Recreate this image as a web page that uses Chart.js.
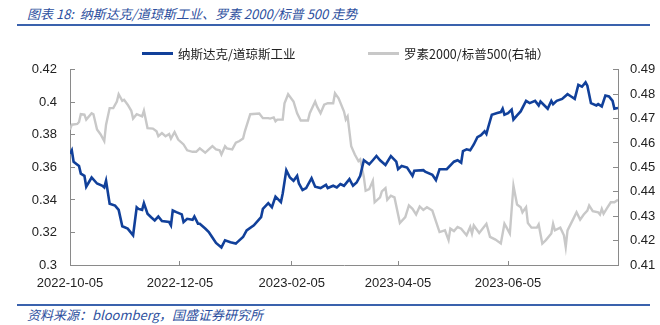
<!DOCTYPE html>
<html>
<head>
<meta charset="utf-8">
<script src="https://cdn.jsdelivr.net/npm/chart.js@4"></script>
<style>
    body { margin: 0; background: #fff; width: 660px; height: 325px; position: relative; overflow: hidden; }
    .title { position: absolute; left: 27px; top: 4px; font: italic 13px "Noto Sans CJK SC", sans-serif; color: #2d4f9e; white-space: nowrap; }
    .rule { position: absolute; left: 17px; width: 633px; background: #3a62ad; }
    .source { position: absolute; left: 27px; top: 305px; font: italic 13px "Noto Sans CJK SC", sans-serif; color: #2d4f9e; white-space: nowrap; }
    .legend-item { position: absolute; top: 44px; font: 12.5px "Noto Sans CJK SC", sans-serif; color: #222; white-space: nowrap; display: flex; align-items: center; }
    .legend-item span.swatch { display: inline-block; width: 31px; height: 3px; margin-right: 5px; }
    #chart { position: absolute; left: 0; top: 44px; }
</style>
</head>
<body>
<div class="title">图表 18:&nbsp; 纳斯达克/道琼斯工业、罗素 2000/标普 500 走势</div>
<div class="rule" style="top:24px;height:2px"></div>
<canvas id="chart" width="660" height="256"></canvas>
<div id="legend"></div>
<div class="rule" style="top:304px;height:1.5px"></div>
<div class="source">资料来源：bloomberg，国盛证券研究所</div>

<script>
/* x positions are days since 2022-10-05 */
const xTickDays = [0, 61, 123, 182, 243];
const xTickLabels = ['2022-10-05', '2022-12-05', '2023-02-05', '2023-04-05', '2023-06-05'];
const leftTicks = [0.3, 0.32, 0.34, 0.36, 0.38, 0.4, 0.42];
const rightTicks = [0.41, 0.42, 0.43, 0.44, 0.45, 0.46, 0.47, 0.48, 0.49];

/* Nasdaq / Dow Jones (left axis) */
const navDays = [0, 1, 2, 5, 6, 8, 9, 12, 15, 18, 19, 20, 22, 25, 27, 29, 32, 35, 37, 38,
    40, 41, 43, 45, 47, 49, 51, 55, 56, 57, 59, 62, 63, 65, 68, 69, 71, 72, 75, 77,
    79, 81, 84, 86, 89, 92, 93, 96, 98, 102, 106, 107, 110, 112, 114, 117, 118, 120, 122, 124,
    126, 127, 129, 131, 134, 136, 139, 142, 143, 146, 148, 150, 152, 155, 157, 159, 161, 163, 166, 168,
    170, 172, 175, 178, 181, 182, 184, 187, 190, 191, 196, 197, 201, 203, 205, 209, 213, 215, 217, 218,
    220, 222, 224, 226, 228, 230, 231, 232, 234, 237, 239, 240, 241, 243, 245, 246, 248, 250, 253, 255,
    258, 260, 261, 265, 267, 268, 270, 273, 276, 278, 280, 282, 284, 286, 287, 289, 292, 293, 295, 297,
    299, 301, 302, 304];
const navVals = [0.3684, 0.3705, 0.3635, 0.3609, 0.3562, 0.3548, 0.3481, 0.3538, 0.3501, 0.3487, 0.3477, 0.3518, 0.3376, 0.3365, 0.3339, 0.3238, 0.3224, 0.3183, 0.3355, 0.3345,
    0.3339, 0.3380, 0.3315, 0.3294, 0.3274, 0.3298, 0.3270, 0.3264, 0.3244, 0.3335, 0.3325, 0.3311, 0.3264, 0.3284, 0.3278, 0.3298, 0.3254, 0.3254, 0.3224, 0.3203,
    0.3169, 0.3136, 0.3108, 0.3152, 0.3140, 0.3132, 0.3142, 0.3172, 0.3213, 0.3244, 0.3294, 0.3345, 0.3380, 0.3355, 0.3420, 0.3386, 0.3440, 0.3583, 0.3538, 0.3518,
    0.3548, 0.3501, 0.3461, 0.3473, 0.3534, 0.3481, 0.3473, 0.3493, 0.3473, 0.3487, 0.3477, 0.3498, 0.3487, 0.3528, 0.3487, 0.3507, 0.3548, 0.3644, 0.3619, 0.3644,
    0.3670, 0.3644, 0.3615, 0.3670, 0.3635, 0.3589, 0.3609, 0.3599, 0.3548, 0.3579, 0.3583, 0.3574, 0.3554, 0.3522, 0.3589, 0.3589, 0.3635, 0.3644, 0.3629, 0.3700,
    0.3711, 0.3705, 0.3741, 0.3786, 0.3798, 0.3822, 0.3806, 0.3847, 0.3924, 0.3934, 0.3940, 0.3961, 0.3924, 0.3934, 0.3955, 0.3894, 0.3920, 0.3944, 0.4009, 0.3995,
    0.4009, 0.3981, 0.4005, 0.3961, 0.4009, 0.3989, 0.4009, 0.4021, 0.4050, 0.4036, 0.4021, 0.4107, 0.4096, 0.4123, 0.4102, 0.3995, 0.3981, 0.3989, 0.3975, 0.4042,
    0.4036, 0.4009, 0.3961, 0.3965];

/* Russell 2000 / S&P 500 (right axis) */
const rusDays = [0, 1, 4, 5, 6, 8, 9, 12, 13, 15, 17, 19, 20, 22, 24, 26, 27, 29, 30, 32,
    34, 35, 37, 40, 41, 43, 46, 48, 49, 51, 53, 55, 56, 58, 60, 63, 65, 68, 70, 72,
    75, 77, 79, 81, 83, 84, 86, 87, 90, 92, 94, 96, 97, 100, 105, 107, 110, 111, 113, 114,
    115, 118, 119, 121, 124, 126, 128, 132, 133, 136, 137, 139, 141, 143, 146, 147, 149, 152, 153, 154,
    156, 158, 160, 161, 163, 164, 166, 168, 169, 172, 173, 175, 176, 178, 180, 183, 186, 188, 190, 192,
    194, 196, 198, 201, 205, 208, 210, 211, 213, 215, 217, 220, 222, 223, 224, 227, 231, 233, 236, 239,
    241, 242, 244, 246, 248, 250, 251, 253, 254, 256, 259, 260, 262, 264, 267, 268, 269, 272, 274, 275,
    276, 279, 281, 283, 285, 287, 288, 290, 293, 294, 295, 296, 298, 300, 302, 304];
const rusVals = [0.4655, 0.4675, 0.4678, 0.4686, 0.4718, 0.4716, 0.4696, 0.4722, 0.4718, 0.4655, 0.4635, 0.4608, 0.4675, 0.4743, 0.4743, 0.4770, 0.4800, 0.4773, 0.4777, 0.4757,
    0.4732, 0.4700, 0.4718, 0.4709, 0.4732, 0.4661, 0.4659, 0.4648, 0.4628, 0.4641, 0.4628, 0.4637, 0.4618, 0.4645, 0.4614, 0.4594, 0.4570, 0.4564, 0.4564, 0.4578,
    0.4560, 0.4574, 0.4587, 0.4574, 0.4570, 0.4553, 0.4587, 0.4578, 0.4574, 0.4601, 0.4608, 0.4618, 0.4648, 0.4718, 0.4721, 0.4702, 0.4702, 0.4700, 0.4705, 0.4689,
    0.4696, 0.4696, 0.4763, 0.4800, 0.4770, 0.4722, 0.4692, 0.4692, 0.4722, 0.4770, 0.4750, 0.4722, 0.4757, 0.4763, 0.4763, 0.4804, 0.4783, 0.4729, 0.4696, 0.4709,
    0.4587, 0.4553, 0.4526, 0.4533, 0.4461, 0.4404, 0.4411, 0.4445, 0.4357, 0.4377, 0.4402, 0.4415, 0.4367, 0.4384, 0.4377, 0.4272, 0.4296, 0.4344, 0.4330, 0.4307,
    0.4340, 0.4326, 0.4337, 0.4323, 0.4235, 0.4242, 0.4202, 0.4249, 0.4239, 0.4256, 0.4249, 0.4222, 0.4256, 0.4229, 0.4262, 0.4231, 0.4269, 0.4215, 0.4204, 0.4188,
    0.4269, 0.4256, 0.4229, 0.4425, 0.4348, 0.4337, 0.4316, 0.4337, 0.4272, 0.4253, 0.4253, 0.4266, 0.4188, 0.4202, 0.4229, 0.4269, 0.4242, 0.4253, 0.4222, 0.4174,
    0.4242, 0.4286, 0.4316, 0.4286, 0.4307, 0.4323, 0.4344, 0.4321, 0.4316, 0.4307, 0.4330, 0.4310, 0.4334, 0.4357, 0.4357, 0.4367];

const navColor = '#11409a';
const rusColor = '#c8c8c8';
const axisColor = '#8a8a8a';
const tickFont = { family: '"Liberation Sans", Arial, sans-serif', size: 13 };

function toPoints(days, vals) {
    return days.map((d, i) => ({ x: d, y: vals[i] }));
}

const ctx = document.querySelector('#chart').getContext('2d');
const chart = new Chart(ctx, {
    type: 'line',
    data: {
        datasets: [{
            label: '纳斯达克/道琼斯工业',
            data: toPoints(navDays, navVals),
            yAxisID: 'y',
            borderColor: navColor,
            backgroundColor: navColor,
            borderWidth: 2.6,
            pointRadius: 0,
            tension: 0
        },
        {
            label: '罗素2000/标普500(右轴）',
            data: toPoints(rusDays, rusVals),
            yAxisID: 'y1',
            borderColor: rusColor,
            backgroundColor: rusColor,
            borderWidth: 2.4,
            pointRadius: 0,
            tension: 0
        }]
    },
    options: {
        responsive: false,
        animation: false,
        devicePixelRatio: 1,
        layout: {
            padding: { left: 30, right: 0, top: 8, bottom: 5 }
        },
        plugins: {
            legend: { display: false },
            tooltip: { enabled: false }
        },
        scales: {
            x: {
                type: 'linear',
                min: 0,
                max: 304,
                afterBuildTicks: function(scale) {
                    scale.ticks = xTickDays.map(v => ({ value: v }));
                },
                afterFit: function(scale) { scale.height = 30; },
                ticks: {
                    autoSkip: false,
                    maxRotation: 0,
                    padding: 15,
                    color: '#222',
                    font: tickFont,
                    callback: (v, i) => xTickLabels[i]
                },
                grid: { drawOnChartArea: false, drawTicks: true, tickLength: -4, tickColor: axisColor },
                border: { display: true, color: axisColor }
            },
            y: {
                position: 'left',
                min: 0.3,
                max: 0.42,
                afterBuildTicks: function(scale) {
                    scale.ticks = leftTicks.map(v => ({ value: v }));
                },
                afterFit: function(scale) { scale.width = 40; },
                ticks: {
                    padding: 18,
                    color: '#222',
                    font: tickFont,
                    callback: v => String(v)
                },
                grid: { drawOnChartArea: false, drawTicks: true, tickLength: -5, tickColor: axisColor },
                border: { display: true, color: axisColor }
            },
            y1: {
                position: 'right',
                min: 0.41,
                max: 0.49,
                afterBuildTicks: function(scale) {
                    scale.ticks = rightTicks.map(v => ({ value: v }));
                },
                afterFit: function(scale) { scale.width = 42; },
                ticks: {
                    padding: 17,
                    color: '#222',
                    font: tickFont,
                    callback: v => String(v)
                },
                grid: { drawOnChartArea: false, drawTicks: true, tickLength: -5, tickColor: axisColor },
                border: { display: true, color: axisColor }
            }
        }
    }
});

/* legend built from the chart's own datasets */
const legendLeft = [142, 368];
const legendBox = document.querySelector('#legend');
chart.data.datasets.forEach(function(ds, i) {
    const item = document.createElement('div');
    item.className = 'legend-item';
    item.style.left = legendLeft[i] + 'px';
    const swatch = document.createElement('span');
    swatch.className = 'swatch';
    swatch.style.background = ds.borderColor;
    item.appendChild(swatch);
    item.appendChild(document.createTextNode(ds.label));
    legendBox.appendChild(item);
});
</script>
</body>
</html>
